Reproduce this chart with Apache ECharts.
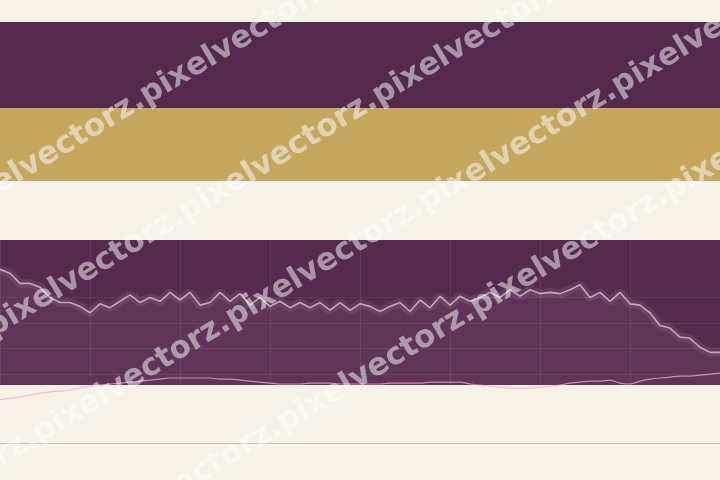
<!DOCTYPE html>
<html><head><meta charset="utf-8">
<script src="https://cdn.jsdelivr.net/npm/echarts@6/dist/echarts.min.js"></script>
<style>html,body{margin:0;padding:0;background:#f6f2e8;}#c{width:720px;height:480px;}</style>
</head><body><div id="c"></div>
<script>
// x categories (73 evenly spaced sample points)
const categories = Array.from({length: 73}, (_, i) => 'P' + (i + 1));
// main (light) line values
const mainValues = [102, 99, 91, 91, 88, 80, 76, 76, 73, 68,
  75, 72, 77, 82, 76, 80, 77, 84, 78, 84,
  74, 76, 84, 77, 83, 74, 80, 73, 77, 72,
  76, 72, 76, 70, 76, 70, 75, 73, 69, 73,
  76, 69, 78, 72, 81, 74, 81, 77, 80, 84,
  80, 86, 81, 86, 83, 84, 83, 86, 90, 80,
  84, 77, 84, 75, 74, 68, 58, 56, 49, 48,
  41, 37, 37];
// pink lower line values
const pinkValues = [0, 1, 2, 3.5, 5, 6, 6.7, 7.5, 9, 10.6,
  11.4, 12.2, 12.9, 13.7, 14.5, 15.3, 16.1, 16.9, 16.9, 16.9,
  16.9, 16.9, 16.1, 16.1, 15.3, 14.5, 13.7, 12.9, 12.2, 12.2,
  12.2, 12.9, 12.9, 12.9, 12.2, 12.2, 12.2, 12.2, 12.2, 12.9,
  12.9, 12.9, 12.9, 13.7, 13.7, 13.7, 13.7, 12.2, 11.4, 10.6,
  9.8, 9, 9, 9, 9.8, 10.6, 11.4, 12.9, 13.7, 14.5,
  14.5, 15.3, 12.9, 12.2, 14.5, 16.1, 16.9, 17.6, 18.4, 18.4,
  19.2, 20, 20.8];
// horizontal guide values
const gridValues = [20, 40, 60, 80];
const watermarkText = 'pixelvectorz.';

const chart = echarts.init(document.getElementById('c'), null, {renderer: 'canvas'});

// decorative bands
const bands = [
  {y: 22, h: 86, fill: '#55284e'},
  {y: 108, h: 73, fill: '#c6a760'},
  {y: 240, h: 145, fill: '#56294f'}
];
const graphics = bands.map(b => ({
  type: 'rect', z: -10, silent: true,
  shape: {x: 0, y: b.y, width: 720, height: b.h},
  style: {fill: b.fill}
}));

// watermark rows
const ang = 31 * Math.PI / 180;
const W = 225;
const rows = [{y0: 202, sp: -50}, {y0: 342, sp: -4}, {y0: 476, sp: 50}, {y0: 612, sp: 110}];
rows.forEach(r => {
  const s = r.sp - W;
  graphics.push({
    type: 'text', z: 100, silent: true,
    x: s * Math.cos(ang), y: r.y0 - s * Math.sin(ang),
    rotation: ang,
    style: {
      text: watermarkText.repeat(6),
      font: 'bold 31px "DejaVu Sans"',
      fill: 'rgba(255,255,255,0.5)',
      textVerticalAlign: 'bottom',
      shadowColor: 'rgba(30,15,30,0.5)',
      shadowOffsetX: 1.5, shadowOffsetY: 2, shadowBlur: 1.5
    }
  });
});

chart.setOption({
  animation: false,
  backgroundColor: '#f6f2e8',
  grid: {left: 0, right: 0, top: 240, bottom: 37, containLabel: false},
  xAxis: {
    type: 'category', boundaryGap: false, data: categories,
    axisLine: {show: true, onZero: false, lineStyle: {color: '#c8c2b6', width: 1}},
    axisTick: {show: false}, axisLabel: {show: false},
    splitLine: {show: true, interval: 8, lineStyle: {color: 'rgba(255,255,255,0.07)', width: 1}}
  },
  yAxis: {
    type: 'value', min: -34, max: 125,
    axisLine: {show: false}, axisTick: {show: false}, axisLabel: {show: false},
    splitLine: {show: false}
  },
  series: [
    {
      type: 'line', data: mainValues, symbol: 'none', z: 2,
      lineStyle: {width: 9, color: 'rgba(255,255,255,0.08)'},
      areaStyle: {color: 'rgba(255,255,255,0.08)', origin: 'start'},
      markLine: {
        silent: true, symbol: 'none', label: {show: false},
        lineStyle: {color: 'rgba(255,255,255,0.07)', type: 'solid', width: 1},
        data: gridValues.map(v => ({yAxis: v}))
      }
    },
    {
      type: 'line', data: mainValues, symbol: 'none', z: 3,
      lineStyle: {width: 1.6, color: '#c6a4be'}
    },
    {
      type: 'line', data: pinkValues, symbol: 'none', z: 3, smooth: 0.3,
      lineStyle: {width: 1.2, color: 'rgba(240,170,215,0.75)'}
    }
  ],
  graphic: graphics
});
</script></body></html>
